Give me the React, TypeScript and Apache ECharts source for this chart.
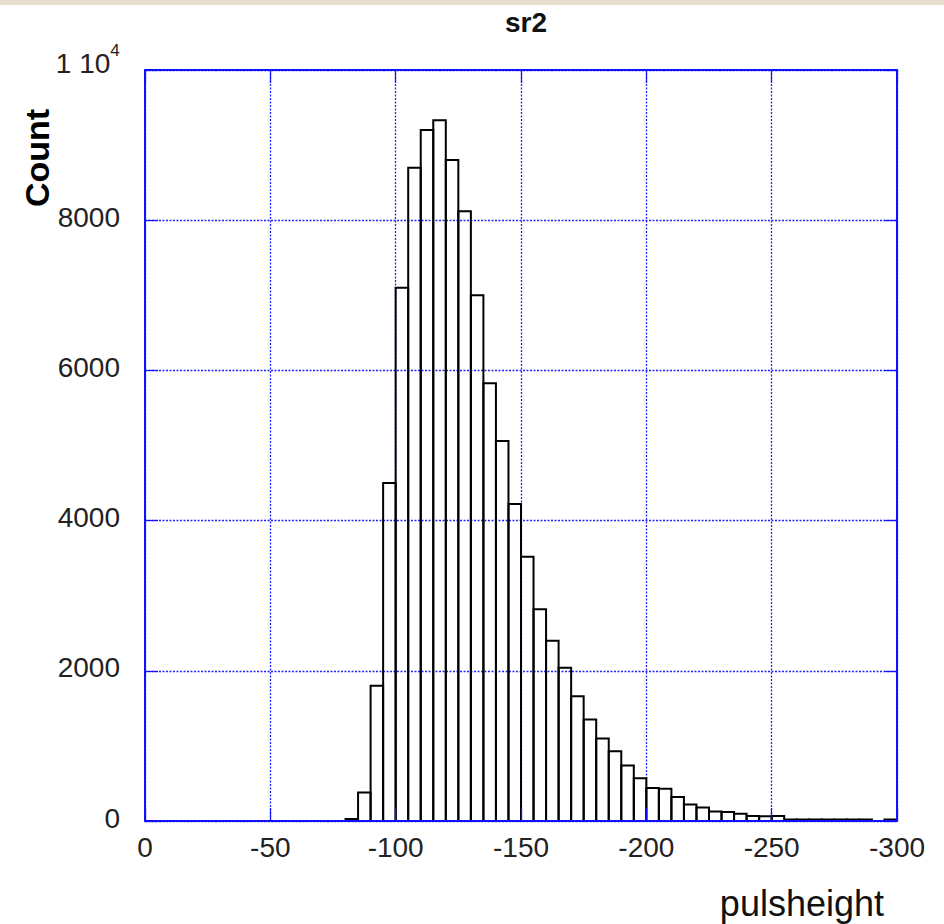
import React, { useEffect, useRef } from "react";
import * as echarts from "echarts";

// Histogram of "sr2" pulse heights: bin lower/upper edges and counts
const binStart = [-80, -85, -90, -95, -100, -105, -110, -115, -120, -125, -130, -135, -140, -145, -150, -155, -160, -165, -170, -175, -180, -185, -190, -195, -200, -205, -210, -215, -220, -225, -230, -235, -240, -245, -250, -255, -260, -265, -270, -275, -280, -285, -290, -295];
const binEnd = [-85, -90, -95, -100, -105, -110, -115, -120, -125, -130, -135, -140, -145, -150, -155, -160, -165, -170, -175, -180, -185, -190, -195, -200, -205, -210, -215, -220, -225, -230, -235, -240, -245, -250, -255, -260, -265, -270, -275, -280, -285, -290, -295, -300];
const counts = [25, 380, 1800, 4500, 7100, 8700, 9200, 9330, 8800, 8120, 7000, 5830, 5060, 4220, 3520, 2820, 2400, 2040, 1660, 1350, 1100, 930, 740, 570, 440, 430, 320, 220, 180, 125, 120, 95, 65, 62, 65, 20, 20, 20, 20, 20, 20, 20, 0, 20];

const xTicks = [0, -50, -100, -150, -200, -250, -300];
const yTicks = [0, 2000, 4000, 6000, 8000, 10000];

const titleText = "sr2";
const xName = "pulsheight";
const yName = "Count";

const FONT = "'Liberation Sans', Arial, Helvetica, sans-serif";
const BLUE = "#1010ff";
const GRID_BLUE = "#2222ff";

export default function App() {
  const ref = useRef<HTMLDivElement>(null);
  useEffect(() => {
    if (!ref.current) return;
    const chart = echarts.init(ref.current, null, { renderer: "svg" });
    const data = binStart.map((s, i) => [s, binEnd[i], counts[i]]);
    const xBase = { type: "value", min: xTicks[xTicks.length - 1], max: xTicks[0], interval: 50, inverse: true, gridIndex: 0 };
    const yBase = { type: "value", min: yTicks[0], max: yTicks[yTicks.length - 1], interval: 2000, gridIndex: 0 };
    const option: any = {
      animation: false,
      backgroundColor: "#ffffff",
      textStyle: { fontFamily: FONT },
      title: {
        text: titleText,
        left: 521,
        textAlign: "center",
        top: 3,
        textStyle: { fontFamily: FONT, fontSize: 28, fontWeight: "bold", color: "#111" },
      },
      grid: { left: 145, right: 47, top: 70, bottom: 103, containLabel: false },
      xAxis: [
        {
          ...xBase,
          position: "bottom",
          z: 0,
          axisLine: { show: false, onZero: false },
          axisTick: { show: false },
          axisLabel: { show: false },
          splitLine: { show: true, lineStyle: { color: GRID_BLUE, width: 1.3, type: [2, 1.5] } },
        },
        {
          ...xBase,
          position: "bottom",
          z: 5,
          axisLine: { show: true, onZero: false, lineStyle: { color: BLUE, width: 2 } },
          axisTick: { show: true, inside: true, length: 13, lineStyle: { color: BLUE, width: 1.2 } },
          axisLabel: { show: true, margin: 12, fontSize: 28, color: "#222", fontFamily: FONT },
          splitLine: { show: false },
        },
        {
          ...xBase,
          position: "top",
          z: 5,
          axisLine: { show: true, onZero: false, lineStyle: { color: BLUE, width: 2 } },
          axisTick: { show: true, inside: true, length: 13, lineStyle: { color: BLUE, width: 1.2 } },
          axisLabel: { show: false },
          splitLine: { show: false },
        },
      ],
      yAxis: [
        {
          ...yBase,
          position: "left",
          z: 0,
          axisLine: { show: false, onZero: false },
          axisTick: { show: false },
          axisLabel: { show: false },
          splitLine: { show: true, lineStyle: { color: GRID_BLUE, width: 1.3, type: [2, 1.5] } },
        },
        {
          ...yBase,
          position: "left",
          z: 5,
          axisLine: { show: true, onZero: false, lineStyle: { color: BLUE, width: 2 } },
          axisTick: { show: true, inside: true, length: 13, lineStyle: { color: BLUE, width: 1.2 } },
          axisLabel: {
            show: true,
            margin: 25,
            fontSize: 28,
            color: "#222",
            fontFamily: FONT,
            padding: [0, 0, 6, 0],
            formatter: (v: number) => (v === 10000 ? "{a|1 10}{s|4}{h| }\n{e| }" : String(v)),
            rich: {
              a: { fontSize: 28, fontFamily: FONT, color: "#222", lineHeight: 28, verticalAlign: "bottom" },
              s: { fontSize: 17, fontFamily: FONT, color: "#222", lineHeight: 17, verticalAlign: "top" },
              h: { fontSize: 1, lineHeight: 35 },
              e: { fontSize: 1, lineHeight: 15 },
            },
          },
          splitLine: { show: false },
        },
        {
          ...yBase,
          position: "right",
          z: 5,
          axisLine: { show: true, onZero: false, lineStyle: { color: BLUE, width: 2 } },
          axisTick: { show: true, inside: true, length: 13, lineStyle: { color: BLUE, width: 1.2 } },
          axisLabel: { show: false },
          splitLine: { show: false },
        },
      ],
      graphic: [
        {
          type: "rect",
          left: 0,
          top: 0,
          shape: { width: 944, height: 5 },
          style: { fill: "#e6dfcf" },
          silent: true,
        },
        {
          type: "text",
          x: 37,
          y: 158,
          rotation: Math.PI / 2,
          style: {
            text: yName,
            font: `bold 34px ${FONT}`,
            fill: "#000",
            textAlign: "center",
            textVerticalAlign: "middle",
          },
        },
        {
          type: "text",
          x: 884,
          y: 903,
          style: {
            text: xName,
            font: `36px ${FONT}`,
            fill: "#111",
            textAlign: "right",
            textVerticalAlign: "middle",
          },
        },
      ],
      series: [
        {
          type: "custom",
          xAxisIndex: 0,
          yAxisIndex: 0,
          z: 2,
          encode: { x: [0, 1], y: 2 },
          data,
          renderItem: (params: any, api: any) => {
            const x0 = api.value(0);
            const x1 = api.value(1);
            const c = api.value(2);
            if (!(c > 0)) return null;
            const pTop0 = api.coord([x0, c]);
            const pTop1 = api.coord([x1, c]);
            const pBase0 = api.coord([x0, 0]);
            const pBase1 = api.coord([x1, 0]);
            return {
              type: "polyline",
              shape: { points: [pBase0, pTop0, pTop1, pBase1] },
              style: { fill: "none", stroke: "#000", lineWidth: 2 },
            };
          },
        },
      ],
    };
    chart.setOption(option);
    return () => chart.dispose();
  }, []);
  return (
    <div
      ref={ref}
      style={{ position: "fixed", left: 0, top: 0, width: 944, height: 924 }}
    />
  );
}
